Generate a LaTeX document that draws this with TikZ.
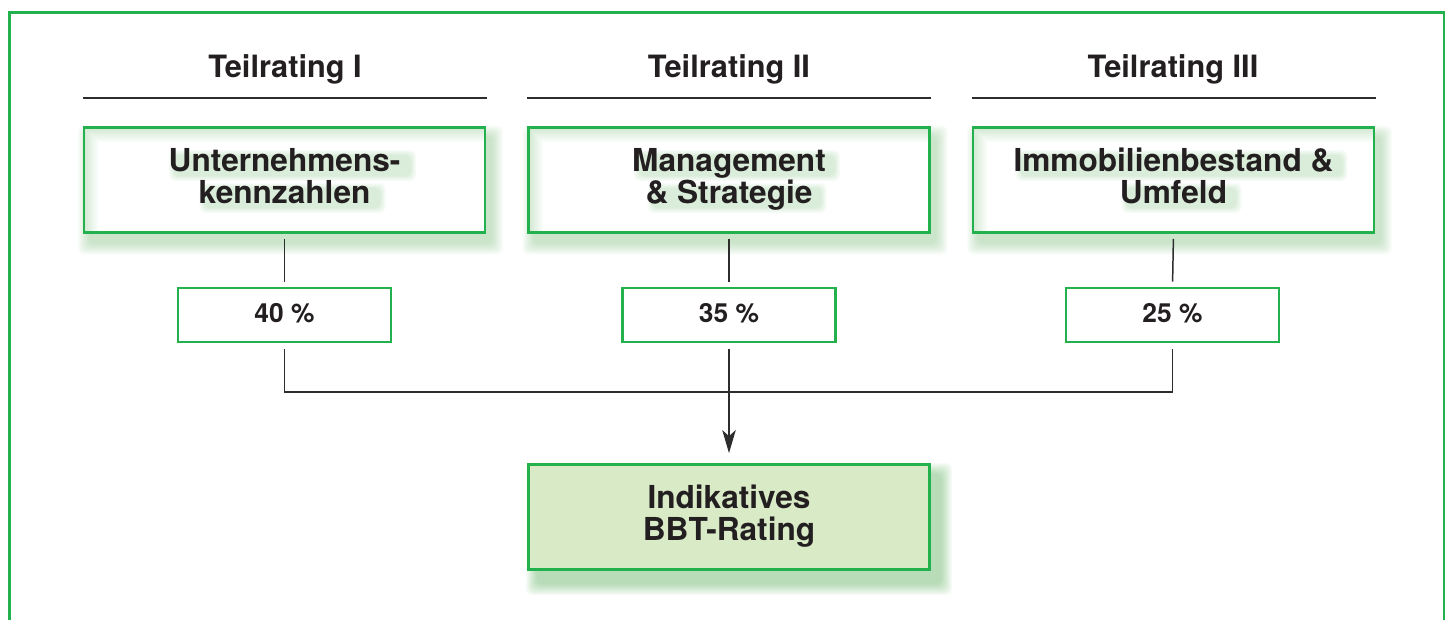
\documentclass[tikz,border=0pt]{standalone}
\usepackage{fontspec}
\setmainfont{TeX Gyre Heros}
\usetikzlibrary{arrows.meta}
\definecolor{fgreen}{RGB}{34,177,76}
\definecolor{bfill}{RGB}{217,234,199}
\definecolor{txt}{RGB}{35,31,32}
\definecolor{lin}{RGB}{45,45,45}
\definecolor{shgreen}{RGB}{80,175,80}
% soft (blurred) rectangle: x1 y1 x2 y2 spread layers opacity
\newcommand\softrect[7]{%
  \foreach \k in {1,...,#6}{%
    \pgfmathsetmacro\ee{#5*(1-(\k-1)/#6)}%
    \fill[shgreen, opacity=#7, rounded corners=3pt] (#1-\ee,#2-\ee) rectangle (#3+\ee,#4+\ee);
  }}
% background of a top box: outer glow, white inside, inner glow, text haze
% args: centre x, centre y, width of line 1, width of line 2 (pixels)
\newcommand\boxbg[4]{%
  \softrect{#1-200.5+6}{#2-52.5+10}{#1+200.5+6}{#2+52.5+10}{12}{10}{0.03}
  \fill[white] (#1-200.5,#2-52.5) rectangle (#1+200.5,#2+52.5);
  \begin{scope}
    \clip (#1-200.5,#2-52.5) rectangle (#1+200.5,#2+52.5);
    \foreach \s in {1,...,7}{%
      \pgfmathsetmacro\lw{\s*0.04}%
      \draw[shgreen, opacity=0.035, line width=\lw cm] (#1-200.5+\s,#2-52.5+\s) rectangle (#1+200.5+\s,#2+52.5+\s);}
  \end{scope}
  \softrect{#1+8-#3/2}{#2-24}{#1+8+#3/2}{#2-5}{6}{6}{0.035}
  \softrect{#1+8-#4/2}{#2+9}{#1+8+#4/2}{#2+27}{6}{6}{0.035}
}
\tikzset{
  topbox/.style={draw=fgreen, line width=1.6pt, minimum width=8.02cm,
    minimum height=2.1cm, inner sep=0pt, align=center, text=txt, text depth=0.18cm,
    font=\bfseries\fontsize{18}{18.2}\selectfont},
  pctbox/.style={draw=fgreen, line width=1.6pt, fill=white, minimum width=4.26cm,
    minimum height=1.08cm, inner sep=0pt, text=txt, text depth=0.08cm,
    font=\bfseries\fontsize{15}{16}\selectfont},
  resbox/.style={topbox, fill=bfill},
  head/.style={text=txt, font=\bfseries\fontsize{17.5}{18}\selectfont, inner sep=0pt},
  hrule/.style={draw=lin, line width=0.7pt},
  conn/.style={draw=lin, line width=0.85pt},
  frame/.style={draw=fgreen, line width=1.6pt},
}
\begin{document}
\begin{tikzpicture}[x=0.02cm,y=-0.02cm]
\useasboundingbox (0,0) rectangle (1451,619);
\clip (0,0) rectangle (1451,619);
\fill[white] (0,0) rectangle (1451,619);
% outer frame (bottom edge lies outside the picture)
\draw[frame] (9.7,650) -- (9.7,12.2) -- (1444,12.2) -- (1444,650);

% headers
\node[head, anchor=base] (h1) at (285,77) {Teilrating I};
\node[head, anchor=base] (h2) at (729,77) {Teilrating II};
\node[head, anchor=base] (h3) at (1173,77) {Teilrating III};
\draw[hrule] (83,98) -- (487,98);
\draw[hrule] (527,98) -- (931,98);
\draw[hrule] (972,98) -- (1376,98);

% backgrounds of the top boxes
\boxbg{284.5}{180}{235}{174}
\boxbg{729}{180}{194}{167}
\boxbg{1173.5}{180}{320}{108}
% shadow of the result box
\softrect{538}{475}{940}{583}{12}{12}{0.04}

% top boxes
\node[topbox] (b1) at (284.5,180) {Unternehmens-\\kennzahlen};
\node[topbox] (b2) at (729,180) {Management\\\& Strategie};
\node[topbox] (b3) at (1173.5,180) {Immobilienbestand \&\\Umfeld};

% percentage boxes
\node[pctbox] (p1) at (284.5,315) {40 \%};
\node[pctbox] (p2) at (729,315) {35 \%};
\node[pctbox] (p3) at (1172.5,315) {25 \%};

% result box
\node[resbox] (r) at (729,517) {Indikatives\\BBT-Rating};

% connectors
\coordinate (j) at (729,392);
\draw[conn, shorten <=0.1cm, shorten >=0.1cm] (b1.south) -- (p1.north);
\draw[conn, shorten <=0.1cm, shorten >=0.1cm] (b2.south) -- (p2.north);
\draw[conn, shorten <=0.1cm, shorten >=0.1cm] (b3.south) -- (p3.north);
\draw[conn, shorten <=0.12cm] (p1.south) |- (j);
\draw[conn, shorten <=0.12cm] (p3.south) |- (j);
\draw[conn, shorten <=0.12cm, shorten >=0.2cm, -{Stealth[length=0.46cm, width=0.27cm, inset=0.12cm]}] (p2.south) -- (r.north);
\end{tikzpicture}
\end{document}
